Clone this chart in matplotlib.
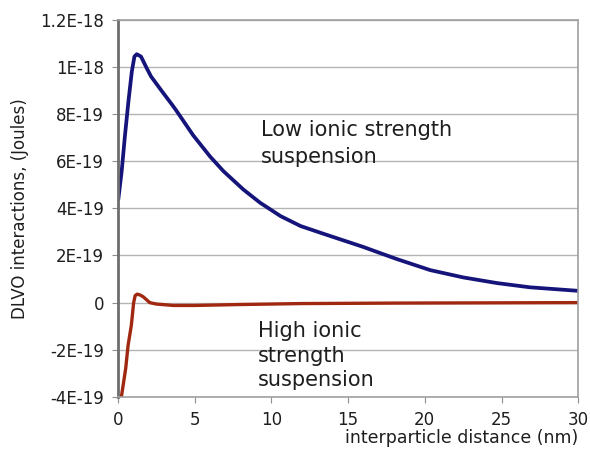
import matplotlib.pyplot as plt

# values (y in Joules)
low_x = [0.02, 0.24, 0.46, 0.68, 0.9, 1.07, 1.22, 1.5, 1.87, 2.15, 2.85, 3.5, 3.8, 4.9,
         6.0, 6.87, 8.17, 9.26, 10.6, 11.9, 13.4, 16.0, 17.1, 18.17, 20.35, 22.5, 24.7,
         26.85, 30.0]
low_y = [4.38e-19, 5.58e-19, 7.13e-19, 8.54e-19, 9.8e-19, 10.44e-19, 10.54e-19, 10.44e-19,
         9.95e-19, 9.6e-19, 8.98e-19, 8.42e-19, 8.15e-19, 7.1e-19, 6.2e-19, 5.58e-19, 4.8e-19,
         4.24e-19, 3.67e-19, 3.25e-19, 2.92e-19, 2.36e-19, 2.1e-19, 1.85e-19, 1.38e-19,
         1.07e-19, 0.83e-19, 0.65e-19, 0.5e-19]

high_x = [0.22, 0.5, 0.66, 0.87, 1.02, 1.12, 1.25, 1.45, 1.64, 2.07, 2.5, 3.6, 5.0, 8.0,
          12.0, 18.0, 24.0, 30.0]
high_y = [-4.0e-19, -2.8e-19, -1.8e-19, -0.96e-19, 0.0, 0.3e-19, 0.36e-19, 0.32e-19,
          0.25e-19, 0.0, -0.06e-19, -0.12e-19, -0.12e-19, -0.08e-19, -0.04e-19, -0.02e-19,
          -0.01e-19, 0.0]

y_ticks = [-4e-19, -2e-19, 0, 2e-19, 4e-19, 6e-19, 8e-19, 1e-18, 1.2e-18]
y_labels = ['-4E-19', '-2E-19', '0', '2E-19', '4E-19', '6E-19', '8E-19', '1E-18', '1.2E-18']
x_ticks = [0, 5, 10, 15, 20, 25, 30]

fig = plt.figure(figsize=(5.9, 4.5), dpi=100)
ax = fig.add_axes([0.2, 0.118, 0.78, 0.838])

ax.plot(low_x, low_y, color='#14147a', lw=2.7, solid_capstyle='round', solid_joinstyle='round')
ax.plot(high_x, high_y, color='#a02810', lw=2.4, solid_capstyle='round', solid_joinstyle='round')

ax.set_xlim(0, 30)
ax.set_ylim(-4e-19, 1.2e-18)
ax.set_xticks(x_ticks)
ax.set_yticks(y_ticks)
ax.set_yticklabels(y_labels)
ax.tick_params(labelsize=12, length=4, color='#909090', labelcolor='#1e1e1e', pad=6)
ax.tick_params(axis='x', pad=6)
ax.yaxis.grid(True, color='#b4b4b4', lw=1)
ax.set_axisbelow(True)

for side in ['top', 'right', 'bottom']:
    ax.spines[side].set_color('#a0a0a0')
    ax.spines[side].set_linewidth(1.2)
ax.spines['left'].set_color('#6e6e6e')
ax.spines['left'].set_linewidth(2)

ax.set_ylabel('DLVO interactions, (Joules)', fontsize=12, labelpad=8, color='#1e1e1e')
ax.set_xlabel('interparticle distance (nm)', fontsize=12.5, loc='right', labelpad=0,
              color='#1e1e1e')

ax.text(9.3, 6.75e-19, 'Low ionic strength\nsuspension', fontsize=15,
        va='center', ha='left', linespacing=1.4, color='#1e1e1e')
ax.text(9.1, -2.25e-19, 'High ionic\nstrength\nsuspension', fontsize=15,
        va='center', ha='left', linespacing=1.3, color='#1e1e1e')

fig.savefig('out.png', dpi=100)
